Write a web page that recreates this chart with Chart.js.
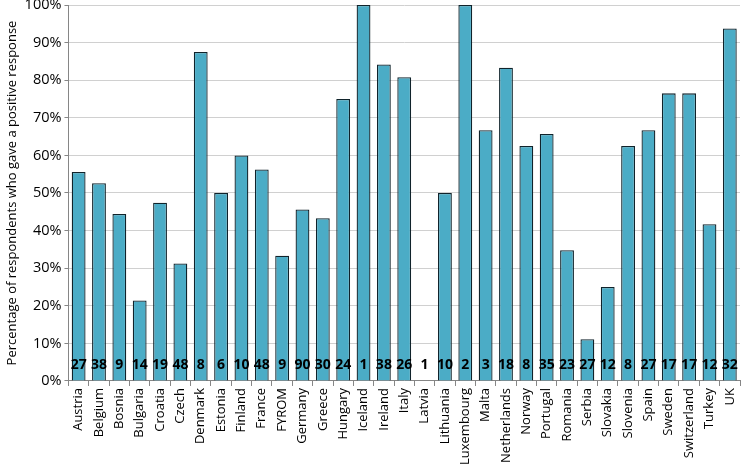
<!DOCTYPE html>
<html>
<head>
<meta charset="utf-8">
<script src="https://cdn.jsdelivr.net/npm/chart.js@4"></script>
<style>
html,body{margin:0;padding:0;background:#fff;}
#wrap{width:750px;height:467px;}
</style>
</head>
<body>
<div id="wrap"><canvas id="c" width="750" height="467"></canvas></div>
<script>
const countries = ["Austria","Belgium","Bosnia","Bulgaria","Croatia","Czech","Denmark","Estonia","Finland","France","FYROM","Germany","Greece","Hungary","Iceland","Ireland","Italy","Latvia","Lithuania","Luxembourg","Malta","Netherlands","Norway","Portugal","Romania","Serbia","Slovakia","Slovenia","Spain","Sweden","Switzerland","Turkey","UK"];
const percentPositive = [55.6,52.6,44.4,21.4,47.4,31.25,87.5,50,60,56.25,33.3,45.6,43.3,75,100,84.2,80.8,0,50,100,66.7,83.3,62.5,65.7,34.8,11.1,25,62.5,66.7,76.5,76.5,41.7,93.75];
const respondents = [27,38,9,14,19,48,8,6,10,48,9,90,30,24,1,38,26,1,10,2,3,18,8,35,23,27,12,8,27,17,17,12,32];
const yTicks = [0,10,20,30,40,50,60,70,80,90,100];

const FONT = "'Open Sans', 'Noto Sans', sans-serif";

const countLabels = {
  id: 'countLabels',
  afterDatasetsDraw(chart) {
    const ctx = chart.ctx;
    const xs = chart.scales.x, ys = chart.scales.y;
    ctx.save();
    ctx.font = "bold 14px " + FONT;
    ctx.fillStyle = "#000";
    ctx.textAlign = "center";
    ctx.textBaseline = "middle";
    respondents.forEach((n, i) => {
      ctx.fillText(String(n), xs.getPixelForValue(i), ys.getPixelForValue(0) - 16);
    });
    ctx.restore();
  }
};

new Chart(document.getElementById('c'), {
  type: 'bar',
  data: {
    labels: countries,
    datasets: [{
      data: percentPositive,
      backgroundColor: '#4BACC6',
      borderColor: '#10232b',
      borderWidth: 1.3,
      categoryPercentage: 1,
      barPercentage: 0.68
    }]
  },
  options: {
    responsive: false,
    animation: false,
    devicePixelRatio: 1,
    layout: { padding: { top: 5, right: 10, left: 4, bottom: 0 } },
    plugins: { legend: { display: false }, tooltip: { enabled: false } },
    scales: {
      x: {
        offset: true,
        grid: { display: true, drawOnChartArea: false, offset: true, color: '#868686', tickLength: 5 },
        border: { color: '#868686', width: 1 },
        ticks: { maxRotation: 90, minRotation: 90, autoSkip: false, color: '#000', font: { family: FONT, size: 13 }, padding: 2 }
      },
      y: {
        min: 0, max: 100,
        afterBuildTicks(scale) { scale.ticks = yTicks.map(v => ({ value: v })); },
        afterFit(scale) { scale.paddingTop = 0; scale.paddingBottom = 0; },
        grid: { color: '#d0d0d0', lineWidth: 1, drawTicks: true, tickLength: 4, tickColor: '#868686' },
        border: { color: '#868686', width: 1 },
        ticks: { color: '#000', font: { family: FONT, size: 14.5 }, callback: v => v + '%', padding: 3 },
        title: { display: true, text: 'Percentage of respondents who gave a positive response', color: '#000', font: { family: FONT, size: 13 }, padding: { top: 0, bottom: 2 } }
      }
    }
  },
  plugins: [countLabels]
});
</script>
</body>
</html>
